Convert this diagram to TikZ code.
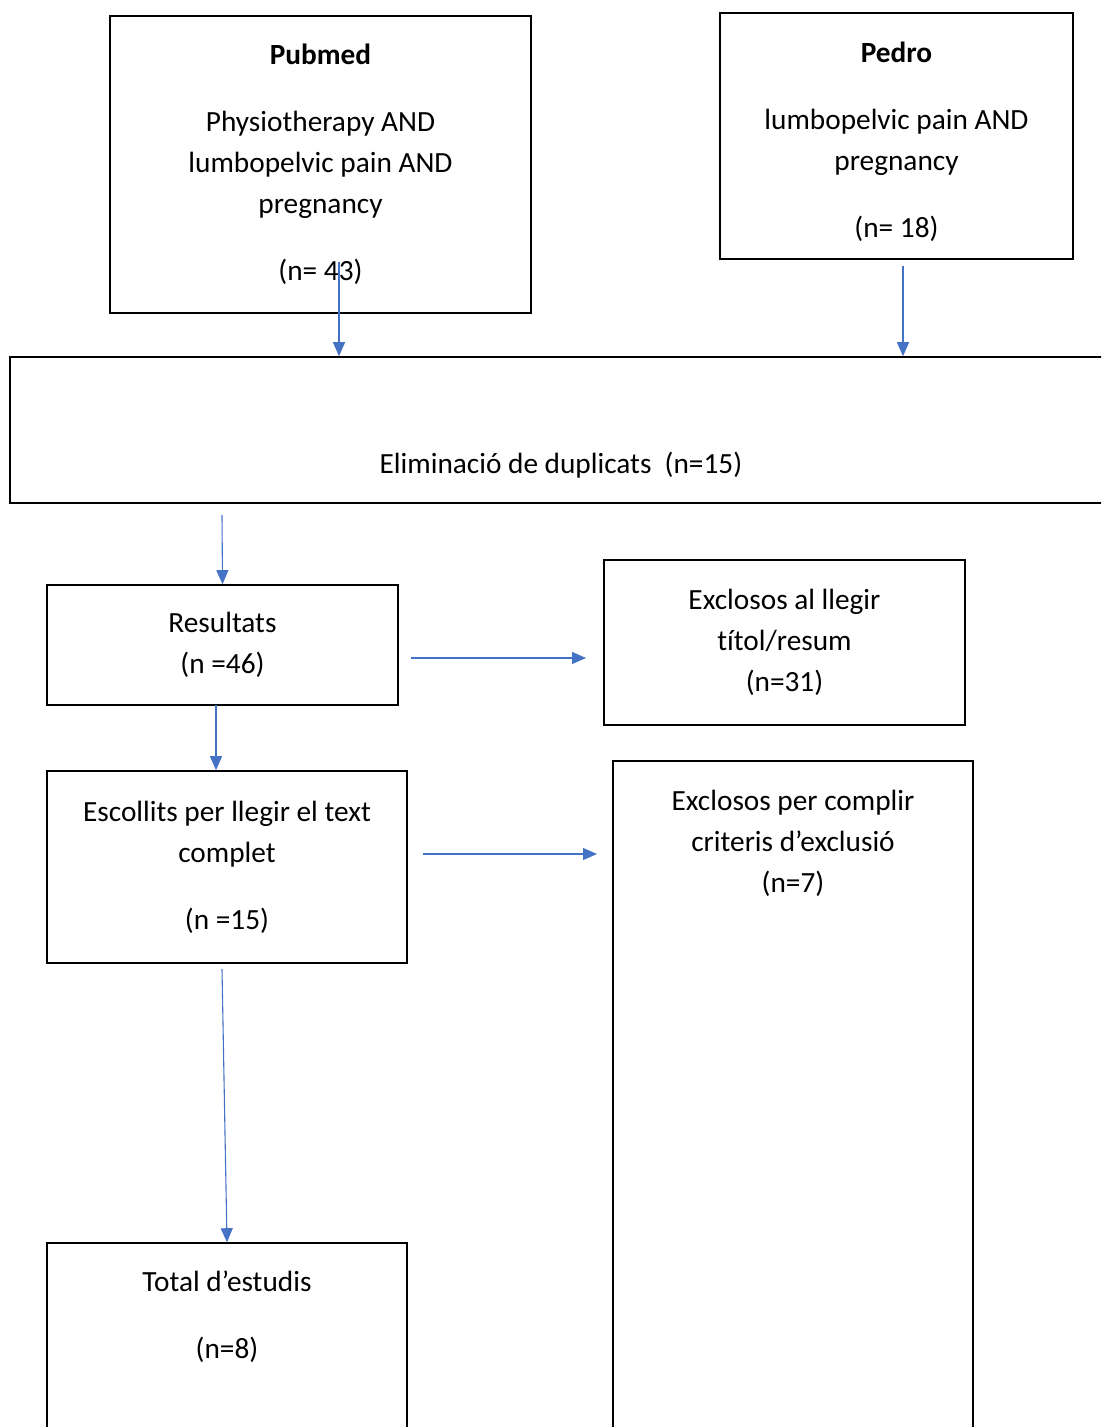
\documentclass[tikz,border=0pt]{standalone}
\usepackage{fontspec}
\setmainfont{Carlito}[Ligatures=CommonOff]
\usetikzlibrary{arrows.meta}
\definecolor{FlowBlue}{HTML}{4472C4}

\begin{document}
\begin{tikzpicture}[x=1pt,y=-1pt,
    box/.style={draw=black, line width=1.6pt, align=center, inner sep=0pt},
    txt/.style={align=center, inner sep=0pt},
    arr/.style={draw=FlowBlue, line width=1.1pt, -{Triangle[length=14pt,width=12pt]}},
    every node/.style={font=\fontsize{29.3}{41}\selectfont}]
  \useasboundingbox (0,0) rectangle (1101,1427);
  \clip (0,0) rectangle (1101,1427);

  % databases
  \node[box, minimum width=421pt, minimum height=297pt] (pubmed) at (320.5,164.5)
    {\textbf{Pubmed}\\[26pt]Physiotherapy AND\\lumbopelvic pain AND\\pregnancy\\[26pt](n= 43)};
  \node[box, minimum width=353pt, minimum height=246pt] (pedro) at (896.5,136)
    {\rule{0pt}{33pt}\textbf{Pedro}\\[26pt]lumbopelvic pain AND\\pregnancy\\[26pt](n= 18)};

  % duplicates
  \node[box, minimum width=1102pt, minimum height=146pt] (dup) at (561,430) {};
  \node[txt] (duptxt) at (561,465) {Eliminació de duplicats~~(n=15)};

  % screening
  \node[box, minimum width=351pt, minimum height=120pt] (res) at (222.5,645)
    {Resultats\\(n =46)};
  \node[box, minimum width=361pt, minimum height=165pt] (excl1) at (784.5,642.5)
    {Exclosos al llegir\\títol/resum\\(n=31)};
  \node[box, minimum width=360pt, minimum height=192pt] (esc) at (227,867)
    {Escollits per llegir el text\\complet\\[26pt](n =15)};
  \node[box, minimum width=360pt, minimum height=679pt] (excl2) at (793,1100.5) {};
  \node[txt] (excl2txt) at (793,843)
    {Exclosos per complir\\criteris d’exclusió\\(n=7)};

  % final
  \node[box, minimum width=360pt, minimum height=197pt] (total) at (227,1341.5) {};
  \node[txt] (totaltxt) at (227,1317) {Total d’estudis\\[26pt](n=8)};

  % connectors
  \coordinate (a1) at (339,262);
  \coordinate (a2) at (903,266);
  \coordinate (a3) at (222,515);
  \coordinate (a4) at (216,705);
  \coordinate (a5) at (411,658);
  \coordinate (a5e) at (586,658);
  \coordinate (a6) at (423,854);
  \coordinate (a6e) at (597,854);
  \coordinate (a7) at (222,969);

  \draw[arr] (a1) -- (a1 |- dup.north);
  \draw[arr] (a2) -- (a2 |- dup.north);
  \draw[arr] (a3) -- (res.north);
  \draw[arr] (a4) -- (a4 |- esc.north);
  \draw[arr] (a5) -- (a5e);
  \draw[arr] (a6) -- (a6e);
  \draw[arr] (a7) -- (total.north);
\end{tikzpicture}
\end{document}
